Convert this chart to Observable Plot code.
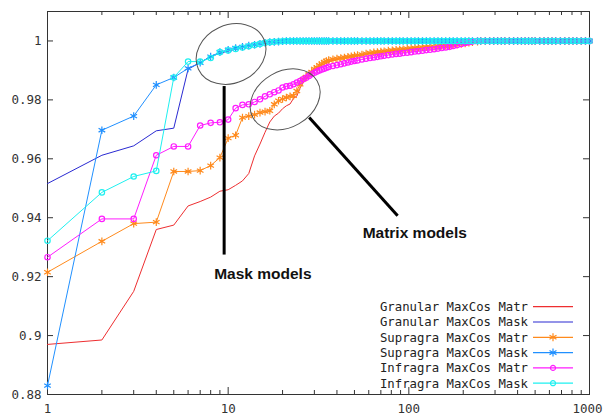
<!DOCTYPE html>
<html><head><meta charset="utf-8">
<script src="https://cdn.jsdelivr.net/npm/d3@7"></script>
<script src="https://cdn.jsdelivr.net/npm/@observablehq/plot@0.6"></script>
<style>body{margin:0;background:#fff} svg{display:block}</style>
</head><body><div id="chart"></div>
<script>
// ---- data ----
const seriesNames = ["Granular MaxCos Matr","Granular MaxCos Mask","Supragra MaxCos Matr","Supragra MaxCos Mask","Infragra MaxCos Matr","Infragra MaxCos Mask"];
const headX = [1,2,3,4,5,6,7,8,9,10,11,12,13,14,15,16,17,18,19,20,21,22,23,24,25,26,27,28,29,30,31,32,33,34,35];
const tailX = [36,38,40,42,44,46,48,50,52,55,58,61,64,67,70,73,77,81,85,89,93,98,103,108,113,119,125,131,138,145,152,160,168,176,185,195,205,215,225,240,250,265,280,295,310,325,340,360,380,400,420,440,460,480,500,530,560,590,620,650,690,730,770,810,850,900,950,1000];

const granMatrHead = [0.897,0.8985,0.915,0.936,0.9375,0.944,0.9455,0.947,0.949,0.9495,0.951,0.9525,0.955,0.961,0.965,0.969,0.9725,0.9745,0.9755,0.977,0.978,0.9786,0.9805,0.9813,0.984,0.9858,0.987,0.988,0.989,0.99,0.9906,0.9912,0.9918,0.9922,0.9926];
const granMatrTail = [0.993,0.9934,0.9937,0.994,0.9942,0.9944,0.9946,0.9948,0.995,0.9953,0.9956,0.9958,0.996,0.9961,0.9963,0.9964,0.9966,0.9967,0.9969,0.997,0.9971,0.9973,0.9974,0.9975,0.9976,0.9977,0.9978,0.9979,0.998,0.9981,0.9982,0.9983,0.9984,0.9985,0.9987,0.9989,0.9991,0.9993,0.9995,0.9997,1,1,1,1,1,1,1,1,1,1,1,1,1,1,1,1,1,1,1,1,1,1,1,1,1,1,1,1];

const granMaskHead = [0.9516,0.9612,0.9644,0.9695,0.9704,0.9904,0.9927,0.9947,0.9958,0.9966,0.9972,0.9977,0.9981,0.9986,0.999,0.9993,0.9995,0.9996,0.9997,0.9998,1,1,1,1,1,1,1,1,1,1,1,1,1,1,1];
const granMaskTail = [1,1,1,1,1,1,1,1,1,1,1,1,1,1,1,1,1,1,1,1,1,1,1,1,1,1,1,1,1,1,1,1,1,1,1,1,1,1,1,1,1,1,1,1,1,1,1,1,1,1,1,1,1,1,1,1,1,1,1,1,1,1,1,1,1,1,1,1];

const supraMatrHead = [0.9215,0.932,0.938,0.9385,0.9557,0.9557,0.956,0.9577,0.9604,0.967,0.968,0.974,0.9745,0.975,0.9757,0.976,0.9763,0.9785,0.9797,0.9803,0.9808,0.9812,0.9814,0.983,0.9853,0.987,0.9878,0.9887,0.9895,0.9905,0.991,0.9918,0.9923,0.9928,0.9932];
const supraMatrTail = [0.9935,0.9938,0.994,0.9942,0.9944,0.9946,0.9948,0.995,0.9952,0.9954,0.9957,0.9959,0.9961,0.9962,0.9964,0.9965,0.9967,0.9968,0.997,0.9971,0.9972,0.9974,0.9975,0.9976,0.9977,0.9978,0.9979,0.998,0.9981,0.9982,0.9983,0.9984,0.9985,0.9986,0.9988,0.999,0.9992,0.9994,0.9996,0.9998,1,1,1,1,1,1,1,1,1,1,1,1,1,1,1,1,1,1,1,1,1,1,1,1,1,1,1,1];

const supraMaskHead = [0.883,0.9697,0.9745,0.9851,0.9876,0.9907,0.9926,0.9947,0.9962,0.997,0.9976,0.998,0.9984,0.9987,0.999,0.9994,0.9996,0.9997,0.9998,0.9999,1,1,1,1,1,1,1,1,1,1,1,1,1,1,1];
const supraMaskTail = [1,1,1,1,1,1,1,1,1,1,1,1,1,1,1,1,1,1,1,1,1,1,1,1,1,1,1,1,1,1,1,1,1,1,1,1,1,1,1,1,1,1,1,1,1,1,1,1,1,1,1,1,1,1,1,1,1,1,1,1,1,1,1,1,1,1,1,1];

const infraMatrHead = [0.9266,0.9396,0.9396,0.9612,0.9642,0.9642,0.9713,0.9722,0.9724,0.9733,0.9772,0.9783,0.9785,0.9793,0.9802,0.9812,0.9819,0.9826,0.9832,0.9842,0.9846,0.9848,0.9853,0.9859,0.9864,0.987,0.9875,0.9881,0.9887,0.9892,0.9896,0.99,0.9903,0.9906,0.9909];
const infraMatrTail = [0.9912,0.9915,0.9918,0.9921,0.9924,0.9927,0.993,0.9932,0.9934,0.9937,0.994,0.9942,0.9944,0.9946,0.9948,0.995,0.9952,0.9954,0.9956,0.9957,0.9959,0.996,0.9962,0.9964,0.9965,0.9967,0.9969,0.997,0.9972,0.9974,0.9976,0.9978,0.998,0.9983,0.9986,0.999,0.9993,0.9996,0.9998,1,1,1,1,1,1,1,1,1,1,1,1,1,1,1,1,1,1,1,1,1,1,1,1,1,1,1,1,1];

const infraMaskHead = [0.9322,0.9486,0.954,0.9559,0.9876,0.993,0.993,0.9942,0.9962,0.9968,0.9973,0.9978,0.9982,0.9986,0.999,0.9994,0.9996,0.9997,0.9998,0.9999,1,1,1,1,1,1,1,1,1,1,1,1,1,1,1];
const infraMaskTail = [1,1,1,1,1,1,1,1,1,1,1,1,1,1,1,1,1,1,1,1,1,1,1,1,1,1,1,1,1,1,1,1,1,1,1,1,1,1,1,1,1,1,1,1,1,1,1,1,1,1,1,1,1,1,1,1,1,1,1,1,1,1,1,1,1,1,1,1];

const xMajor = [1,10,100];
const xMajorLabels = ["1","10","100"];
const xLast = [1000];
const xLastLabels = ["1000"];
const xMinor = [2,3,4,5,6,7,8,9,20,30,40,50,60,70,80,90,200,300,400,500,600,700,800,900];
const yTicks = [0.88,0.9,0.92,0.94,0.96,0.98,1];
const yTickLabels = ["0.88","0.9","0.92","0.94","0.96","0.98","1"];

// annotations (data coordinates)
const annoLinks = [
  {x1: 9.5, y1: 0.9847, x2: 9.5, y2: 0.9275},
  {x1: 28.1, y1: 0.974, x2: 86.7, y2: 0.9407}
];
const annoTexts = [
  {x: 8.37, y: 0.9209, label: "Mask models"},
  {x: 55.5, y: 0.93475, label: "Matrix models"}
];
const annoEllipses = [
  {x: 10.44, y: 0.9954},
  {x: 20.8, y: 0.9800}
];

// ---- styles ----
const colors = ["#ee2e30","#2a2ad2","#ff8a1c","#2090ff","#ff1cff","#1ef0f0"];
const symbols = [null,null,"asterisk","asterisk","circle","circle"];
const ellipseShape = [{rx:36, ry:29, rot:-25},{rx:37, ry:28, rot:-30}];

const heads = [granMatrHead, granMaskHead, supraMatrHead, supraMaskHead, infraMatrHead, infraMaskHead];
const tails = [granMatrTail, granMaskTail, supraMatrTail, supraMaskTail, infraMatrTail, infraMaskTail];
const series = seriesNames.map((name, i) =>
  headX.map((x, j) => ({x, y: heads[i][j], s: name}))
    .concat(tailX.map((x, j) => ({x, y: tails[i][j], s: name})))
);

const W = 603, H = 420, mL = 47, mR = 14, mT = 11, mB = 26;
const pW = W - mL - mR, pH = H - mT - mB;
const tickColor = "#333";
const allMajor = xMajor.concat(xLast);

const marks = [
  Plot.ruleY(yTicks, {insetRight: pW - 6, stroke: tickColor}),
  Plot.ruleY(yTicks, {insetLeft: pW - 6, stroke: tickColor}),
  Plot.ruleX(allMajor, {insetTop: pH - 7, stroke: tickColor}),
  Plot.ruleX(allMajor, {insetBottom: pH - 7, stroke: tickColor}),
  Plot.ruleX(xMinor, {insetTop: pH - 4, stroke: tickColor}),
  Plot.ruleX(xMinor, {insetBottom: pH - 4, stroke: tickColor}),
  Plot.axisY(yTicks, {anchor: "left", tickSize: 0, tickPadding: 6, tickFormat: d => yTickLabels[yTicks.indexOf(d)], fill: "#333", fontSize: 12.5}),
  Plot.axisX(xMajor, {anchor: "bottom", tickSize: 0, tickPadding: 10, tickFormat: d => xMajorLabels[xMajor.indexOf(d)], fill: "#333", fontSize: 12.5}),
  Plot.axisX(xLast, {anchor: "bottom", tickSize: 0, tickPadding: 10, dx: -2, tickFormat: d => xLastLabels[xLast.indexOf(d)], fill: "#333", fontSize: 12.5}),
  Plot.frame({stroke: "#333"})
];
series.forEach((data, i) => {
  marks.push(Plot.line(data, {x: "x", y: "y", stroke: colors[i], strokeWidth: 1}));
  if (symbols[i]) marks.push(Plot.dot(data, {x: "x", y: "y", stroke: colors[i], symbol: symbols[i], r: symbols[i] === "asterisk" ? 3.6 : 2.7, strokeWidth: 1.2}));
});
marks.push(Plot.link(annoLinks, {x1: "x1", y1: "y1", x2: "x2", y2: "y2", stroke: "#000", strokeWidth: 3}));
marks.push(Plot.text(annoTexts, {x: "x", y: "y", text: "label", textAnchor: "start", lineAnchor: "middle", fontSize: 15.5, fontWeight: "bold", fontFamily: "Liberation Sans, Arial, sans-serif", fill: "#111"}));

const chart = Plot.plot({
  width: W, height: H,
  marginLeft: mL, marginRight: mR, marginTop: mT, marginBottom: mB,
  x: {type: "log", domain: [1, 1000]},
  y: {domain: [0.88, 1.01]},
  style: {fontFamily: "DejaVu Sans Mono, monospace", fontSize: "12.5px", background: "#fff"},
  marks
});
document.getElementById("chart").appendChild(chart);

// ellipses around groups, positioned with the plot's scales
const svg = d3.select(chart);
const sx = chart.scale("x"), sy = chart.scale("y");
annoEllipses.forEach((e, i) => {
  const cx = sx.apply(e.x), cy = sy.apply(e.y), sh = ellipseShape[i];
  svg.append("ellipse")
    .attr("cx", cx).attr("cy", cy).attr("rx", sh.rx).attr("ry", sh.ry)
    .attr("transform", `rotate(${sh.rot} ${cx} ${cy})`)
    .attr("fill", "none").attr("stroke", "#555").attr("stroke-width", 1);
});

// legend (gnuplot-style key inside the plot)
const lg = svg.append("g").attr("font-family", "DejaVu Sans Mono, monospace").attr("font-size", 12.3);
const legendTop = 306.7, legendStep = 15.3, textRight = 528, sampleX1 = 533, sampleX2 = 573;
seriesNames.forEach((name, i) => {
  const y = legendTop + i * legendStep;
  lg.append("text").attr("x", textRight).attr("y", y).attr("dy", "0.35em").attr("text-anchor", "end").attr("fill", "#222").text(name);
  lg.append("line").attr("x1", sampleX1).attr("x2", sampleX2).attr("y1", y).attr("y2", y).attr("stroke", colors[i]).attr("stroke-width", 1.2);
  if (symbols[i]) {
    const sym = symbols[i] === "asterisk" ? d3.symbolAsterisk : d3.symbolCircle;
    const size = symbols[i] === "asterisk" ? 45 : 20;
    lg.append("path").attr("d", d3.symbol(sym, size)()).attr("transform", `translate(${(sampleX1 + sampleX2) / 2},${y})`)
      .attr("fill", "none").attr("stroke", colors[i]).attr("stroke-width", 1.2);
  }
});
</script></body></html>
